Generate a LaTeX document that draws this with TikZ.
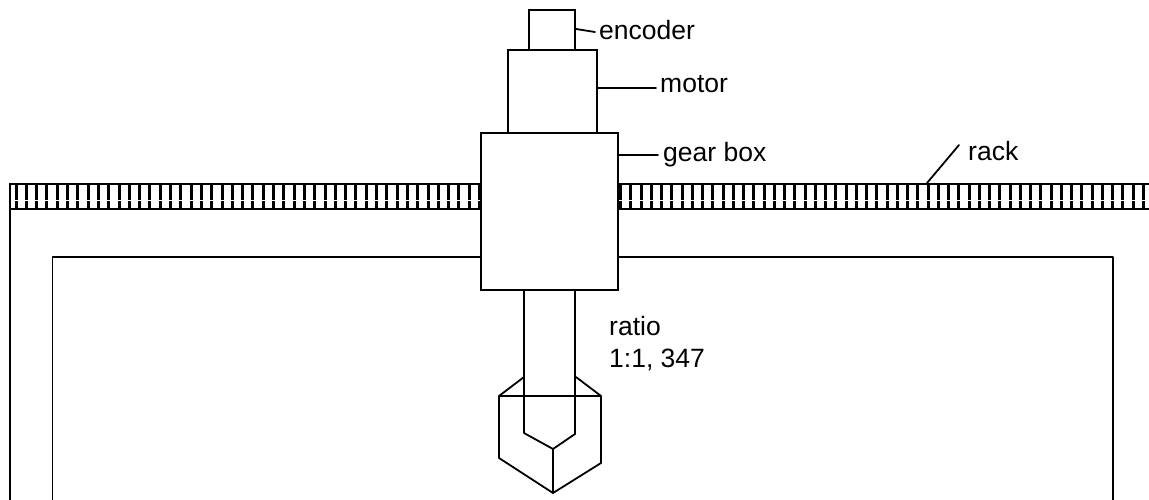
\documentclass[tikz,border=0pt]{standalone}
\usepackage{fontspec}
\setmainfont{Liberation Sans}
\tikzset{
  part/.style={draw=black,line width=1.9pt,fill=white,inner sep=0pt,outer sep=0pt,anchor=north west},
  ln/.style={draw=black,line width=1.8pt,line cap=round,line join=round},
  tooth/.style={draw=black,line width=3pt},
  rackline/.style={draw=black,line width=2pt},
  lab/.style={font=\fontsize{26.5}{31}\selectfont,inner sep=0pt,anchor=base west,align=left},
}
\begin{document}
\begin{tikzpicture}[x=1pt,y=-1pt]
\useasboundingbox (0,0) rectangle (1149,500);
% rack
\foreach \s in {0,...,45}{
  \pgfmathsetmacro\xx{16+10.3*\s}
  \draw[tooth] (\xx,185) -- (\xx,199.8);
  \draw[tooth] (\xx,201) -- (\xx,208);
}
\foreach \s in {0,...,51}{
  \pgfmathsetmacro\xx{620.5+10.25*\s}
  \draw[tooth] (\xx,185) -- (\xx,199.8);
  \draw[tooth] (\xx,201) -- (\xx,208);
}
\coordinate (rl1) at (9,184.5); \coordinate (rl2) at (481,184.5);
\coordinate (rl3) at (9,208.5); \coordinate (rl4) at (481,208.5);
\coordinate (rr1) at (618,184.5); \coordinate (rr2) at (1149,184.5);
\coordinate (rr3) at (618,208.5); \coordinate (rr4) at (1149,208.5);
\draw[rackline] (rl1)--(rl2) (rl3)--(rl4) (rr1)--(rr2) (rr3)--(rr4);
% frame
\coordinate (o1) at (10,184); \coordinate (o2) at (10,500);
\draw[ln] (o1)--(o2);
\coordinate (f1) at (52.5,500); \coordinate (f2) at (52.5,257); \coordinate (f3) at (481,257);
\coordinate (f4) at (618,257); \coordinate (f5) at (1113,257); \coordinate (f6) at (1113,500);
\draw[ln] (f1)--(f2)--(f3) (f4)--(f5)--(f6);
% bodies
\node[part,minimum width=137pt,minimum height=157pt] (gear) at (481,133) {};
\node[part,minimum width=89pt,minimum height=83pt] (motor) at (508,50) {};
\node[part,minimum width=46pt,minimum height=40pt] (enc) at (529,10) {};
% cutter
\coordinate (hl) at (499,396); \coordinate (hr) at (601,396);
\coordinate (hbl) at (499,458); \coordinate (hb) at (553,493); \coordinate (hbr) at (601,463);
\coordinate (cl) at (524,377); \coordinate (cr) at (576,377);
\coordinate (sl) at (524,290); \coordinate (sr) at (575,290);
\coordinate (tl) at (524,433); \coordinate (tr) at (575,434); \coordinate (tip) at (553,449);
\draw[ln] (hl)--(hr)--(hbr)--(hb)--(hbl)--cycle;
\draw[ln] (hl)--(cl) (hr)--(cr);
\draw[ln] (sl)--(tl)--(tip)--(tr)--(sr);
\draw[ln] (tip)--(hb);
% labels
\node[lab] (lenc) at (599,39.5) {encoder};
\node[lab] (lmot) at (660,93) {motor};
\node[lab] (lgear) at (663,162) {gear box};
\node[lab] (lrack) at (968,160.7) {rack};
\node[lab] (lratio) at (609,335) {ratio};
\node[lab] (lval) at (609,367) {1:1, 347};
% leaders
\coordinate (ae) at (576,29); \coordinate (be) at (595,32);
\coordinate (am) at (598,88); \coordinate (bm) at (656,88);
\coordinate (ag) at (619,155); \coordinate (bg) at (658,155);
\coordinate (ar) at (927,183); \coordinate (br) at (959,145);
\draw[ln] (ae)--(be) (am)--(bm) (ag)--(bg) (ar)--(br);
\end{tikzpicture}
\end{document}
